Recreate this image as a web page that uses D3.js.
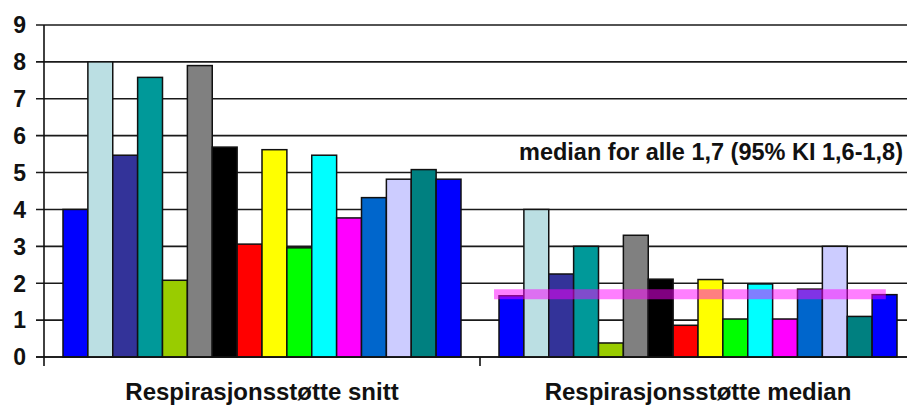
<!DOCTYPE html>
<html><head><meta charset="utf-8">
<script src="https://cdn.jsdelivr.net/npm/d3@7"></script>
<style>html,body{margin:0;padding:0;background:#fff;overflow:hidden}</style>
</head><body>
<svg id="c" width="907" height="408"></svg>
<script>
const categories = ["Respirasjonsstøtte snitt", "Respirasjonsstøtte median"];
const seriesNames = ["S1","S2","S3","S4","S5","S6","S7","S8","S9","S10","S11","S12","S13","S14","S15","S16"];
const seriesColors = ["#0000ff","#bbdfe3","#333399","#009999","#99cc00","#808080","#000000","#ff0000","#ffff00","#00ff00","#00ffff","#ff00ff","#0066cc","#ccccff","#008080","#0000ff"];
const snittValues  = [4.0, 8.0, 5.47, 7.58, 2.08, 7.9, 5.69, 3.06, 5.62, 2.96, 5.47, 3.77, 4.32, 4.82, 5.08, 4.82];
const medianValues = [1.66, 4.0, 2.25, 3.0, 0.38, 3.3, 2.11, 0.86, 2.1, 1.03, 1.98, 1.03, 1.84, 3.0, 1.1, 1.69];
const yTicks = [0,1,2,3,4,5,6,7,8,9];
const medianAll = 1.7;
const medianLabel = "median for alle 1,7 (95% KI 1,6-1,8)";

const values = [snittValues, medianValues];
const svg = d3.select("#c");
const font = "'Liberation Sans', Arial, sans-serif";

const x0 = d3.scaleBand().domain(categories).range([44, 916]);
const x1 = d3.scaleBand().domain(seriesNames).range([19, 417]);
const y = d3.scaleLinear().domain([0, 9]).range([357, 25]);

// gridlines
svg.append("g").selectAll("line").data(yTicks).join("line")
  .attr("x1", 36).attr("x2", 907)
  .attr("y1", d => y(d)).attr("y2", d => y(d))
  .attr("stroke", "#1a1a1a").attr("stroke-width", 1.6);

// bars
categories.forEach((cat, ci) => {
  const g = svg.append("g").attr("transform", `translate(${x0(cat)},0)`);
  g.selectAll("rect").data(values[ci]).join("rect")
    .attr("x", (d, i) => x1(seriesNames[i]))
    .attr("y", d => y(d))
    .attr("width", x1.bandwidth())
    .attr("height", d => y(0) - y(d))
    .attr("fill", (d, i) => seriesColors[i])
    .attr("stroke", "#111").attr("stroke-width", 1.5);
});

// y axis line
svg.append("line").attr("x1", 44).attr("x2", 44).attr("y1", y(9)).attr("y2", y(0) + 9)
  .attr("stroke", "#111").attr("stroke-width", 1.6);
// baseline
svg.append("line").attr("x1", 36).attr("x2", 907).attr("y1", y(0)).attr("y2", y(0))
  .attr("stroke", "#111").attr("stroke-width", 1.6);
// category separator tick
svg.append("line").attr("x1", x0(categories[1])).attr("x2", x0(categories[1]))
  .attr("y1", y(0)).attr("y2", y(0) + 9).attr("stroke", "#111").attr("stroke-width", 1.6);

// y tick labels
svg.append("g").selectAll("text").data(yTicks).join("text")
  .attr("x", 26).attr("y", d => y(d)).attr("dy", "0.36em")
  .attr("text-anchor", "end")
  .attr("font-family", font).attr("font-weight", "bold").attr("font-size", 23)
  .attr("fill", "#111").text(d => d);

// category labels
svg.append("g").selectAll("text").data(categories).join("text")
  .attr("x", d => x0(d) + x0.bandwidth() / 2).attr("y", 400)
  .attr("text-anchor", "middle")
  .attr("font-family", font).attr("font-weight", "bold").attr("font-size", 24)
  .attr("fill", "#111").text(d => d);

// median line for all
const c2 = x0(categories[1]);
const bw = x1.bandwidth();
svg.append("line")
  .attr("x1", c2 + x1.range()[0] - 0.2 * bw)
  .attr("x2", c2 + x1.range()[1] - 0.45 * bw)
  .attr("y1", y(medianAll)).attr("y2", y(medianAll))
  .attr("stroke", "#ff00ff").attr("stroke-opacity", 0.5).attr("stroke-width", 10);

// median annotation
svg.append("text").attr("x", 903).attr("y", 160)
  .attr("text-anchor", "end")
  .attr("font-family", font).attr("font-weight", "bold").attr("font-size", 23.5)
  .attr("fill", "#111").text(medianLabel);
</script>
</body></html>
